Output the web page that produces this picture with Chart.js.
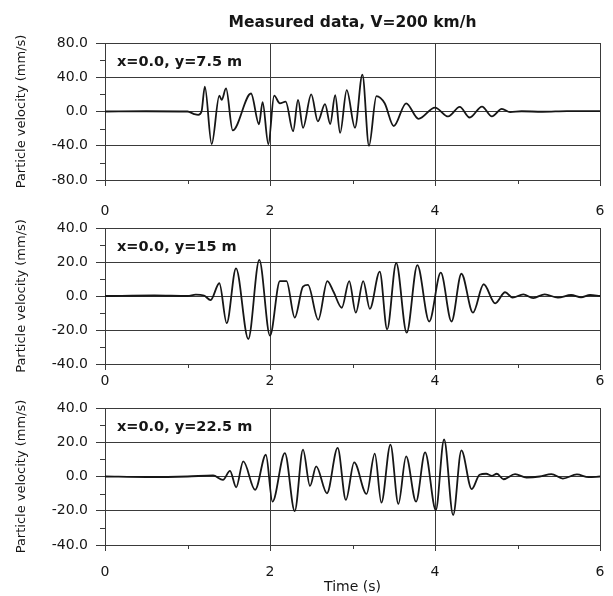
<!DOCTYPE html>
<html>
<head>
<meta charset="utf-8">
<script src="https://cdn.jsdelivr.net/npm/chart.js@4/dist/chart.umd.min.js"></script>
<style>
    html, body { margin: 0; padding: 0; background: #ffffff; }
    #wrap { position: relative; width: 613px; height: 596px; }
    canvas { position: absolute; left: 0; }
</style>
</head>
<body>
<div id="wrap">
    <canvas id="p1" width="613" height="230" style="top:0px"></canvas>
    <canvas id="p2" width="613" height="200" style="top:200px"></canvas>
    <canvas id="p3" width="613" height="216" style="top:380px"></canvas>
</div>
<script>

// time (s) and particle velocity (mm/s)
const t1 = [0, 0.5, 1.0, 1.08, 1.13, 1.17, 1.21, 1.293, 1.386, 1.414, 1.467, 1.548, 1.77, 1.867, 1.91, 1.98,
    2.05, 2.12, 2.19, 2.28, 2.34, 2.40, 2.50, 2.58, 2.667, 2.73, 2.79, 2.85, 2.93, 3.03, 3.12, 3.20,
    3.29, 3.39, 3.50, 3.65, 3.80, 4.0, 4.16, 4.30, 4.42, 4.57, 4.69, 4.81, 4.91, 5.05, 5.3, 5.6, 6.0];
const v1 = [0, 0.3, 0, -3, -4, 0, 29, -38, 18.5, 13.5, 27, -22, 21, -15, 11, -38,
    18.5, 9.6, 11.5, -23, 13.5, -19, 20, -11.5, 8.5, -14.6, 19, -25, 25, -19, 43, -40,
    18, 9.6, -17, 9.6, -8.5, 4.6, -5.8, 5.4, -7, 5.8, -5.8, 3, -0.8, 0.3, -0.3, 0.4, 0.5];

const t2 = [0, 0.6, 1.0, 1.1, 1.2, 1.28, 1.386, 1.475, 1.588, 1.737, 1.87, 2.0, 2.12, 2.2, 2.30, 2.40,
    2.46, 2.585, 2.695, 2.77, 2.87, 2.96, 3.04, 3.13, 3.21, 3.33, 3.42, 3.53, 3.657, 3.786, 3.93,
    4.07, 4.20, 4.32, 4.46, 4.59, 4.73, 4.85, 4.94, 5.07, 5.19, 5.33, 5.49, 5.65, 5.77, 5.88, 6.0];
const v2 = [0, 0.3, 0, 0.8, 0.3, -2.4, 7.5, -16, 16.3, -25.3, 21.2, -23.3, 8.8, 8.8, -12.7, 5.5,
    6.5, -14, 8.8, 2.5, -6.9, 8.8, -9.8, 8.8, -7.6, 14.3, -19.6, 19.4, -21.6, 18.2, -15,
    13.7, -15, 13.1, -9.8, 6.9, -4.3, 2.2, -1, 1, -1.2, 1, -1, 0.6, -0.8, 0.6, 0];

const t3 = [0, 0.5, 1.0, 1.31, 1.43, 1.515, 1.59, 1.676, 1.82, 1.95, 2.03, 2.18, 2.30, 2.40, 2.485,
    2.56, 2.69, 2.82, 2.92, 3.02, 3.17, 3.27, 3.35, 3.46, 3.556, 3.65, 3.77, 3.88, 4.01, 4.11,
    4.22, 4.32, 4.445, 4.54, 4.62, 4.69, 4.75, 4.83, 4.97, 5.11, 5.27, 5.41, 5.55, 5.72, 5.86, 6.0];
const v3 = [0, -0.3, 0, 0.6, -2, 3.3, -6.3, 8.8, -7.8, 12.7, -14.7, 13.7, -20.2, 15.7, -5.5,
    5.9, -9.8, 16.7, -13.7, 8.2, -10.2, 13.3, -15.3, 18.6, -16, 11.8, -14.7, 14.1, -19.6, 21.6,
    -22.5, 15.3, -7.4, 1, 1.6, 0.4, 1.6, -1.6, 1.4, -0.6, 0, 1.4, -1.2, 1.2, -0.4, 0];

const panelLabels = ["x=0.0, y=7.5 m", "x=0.0, y=15 m", "x=0.0, y=22.5 m"];
const yLimits = [80, 40, 40];
const yStep = [40, 20, 20];
const xTicks = [0, 2, 4, 6];
const xMinor = [1, 3, 5];

const chartTitle = "Measured data, V=200 km/h";
const yTitle = "Particle velocity (mm/s)";
const xTitle = "Time (s)";

const ink = "#161616";
const gridInk = "#3a3a3a";
const fam = "'DejaVu Sans', 'Liberation Sans', sans-serif";

// label in the top-left corner of each panel plus the short minor ticks
const panelDecor = {
    id: "panelDecor",
    afterDraw(chart, args, opts) {
        const ctx = chart.ctx;
        const area = chart.chartArea;
        const xs = chart.scales.x;
        const ys = chart.scales.y;

        ctx.save();
        ctx.strokeStyle = gridInk;
        ctx.lineWidth = 1;
        ctx.beginPath();
        xMinor.forEach(m => {
            const px = Math.round(xs.getPixelForValue(m)) + 0.5;
            ctx.moveTo(px, area.bottom);
            ctx.lineTo(px, area.bottom + 4);
        });
        for (let y = -opts.lim + opts.step / 2; y < opts.lim; y += opts.step) {
            const py = Math.round(ys.getPixelForValue(y)) + 0.5;
            ctx.moveTo(area.left - 5, py);
            ctx.lineTo(area.left, py);
        }
        ctx.stroke();

        ctx.fillStyle = ink;
        ctx.font = "bold 14.5px " + fam;
        ctx.textAlign = "left";
        ctx.textBaseline = "middle";
        ctx.fillText(opts.text, area.left + 12, area.top + 19);
        ctx.restore();
    }
};

function makePanel(id, t, v, idx, cfg) {

    const ctx =
        document
            .getElementById(id)
            .getContext("2d");

    const points =
        t.map((x, i) => ({ x: x, y: v[i] }));

    const lim = yLimits[idx];

    return new Chart(ctx, {

        type: "line",

        data: {
            datasets: [
                {
                    data: points,
                    borderColor: ink,
                    borderWidth: 1.8,
                    pointRadius: 0,
                    cubicInterpolationMode: "monotone",
                    fill: false
                }
            ]
        },

        plugins: [panelDecor],

        options: {
            responsive: false,
            animation: false,
            events: [],
            layout: {
                padding: { top: cfg.padTop, left: 0, right: 13, bottom: 0 }
            },
            plugins: {
                legend: { display: false },
                tooltip: { enabled: false },
                title: {
                    display: cfg.showTitle,
                    text: chartTitle,
                    fullSize: false,
                    color: ink,
                    font: { family: fam, size: 15.5, weight: "bold", lineHeight: 1.2 },
                    padding: { top: 14, bottom: 10.4 }
                },
                panelDecor: {
                    text: panelLabels[idx],
                    lim: lim,
                    step: yStep[idx]
                }
            },
            scales: {
                x: {
                    type: "linear",
                    min: 0,
                    max: 6,
                    afterBuildTicks: s => { s.ticks = xTicks.map(x => ({ value: x })); },
                    afterFit: s => {
                        s.height = cfg.xHeight;
                        s.paddingLeft = 0;
                        s.paddingRight = 0;
                    },
                    grid: {
                        color: gridInk,
                        lineWidth: 1,
                        tickLength: 6,
                        tickColor: gridInk
                    },
                    border: { color: gridInk, width: 1 },
                    ticks: {
                        color: ink,
                        padding: cfg.xPad,
                        maxRotation: 0,
                        font: { family: fam, size: 14, lineHeight: 1.2 },
                        callback: val => String(val)
                    },
                    title: {
                        display: cfg.showXTitle,
                        text: xTitle,
                        color: ink,
                        font: { family: fam, size: 14, lineHeight: 1.2 },
                        padding: { top: 0, bottom: 0 }
                    }
                },
                y: {
                    min: -lim,
                    max: lim,
                    afterFit: s => { s.width = 105; },
                    ticks: {
                        stepSize: yStep[idx],
                        color: ink,
                        padding: 8,
                        font: { family: fam, size: 14, lineHeight: 1.2 },
                        callback: val => Number(val).toFixed(1)
                    },
                    grid: {
                        color: gridInk,
                        lineWidth: 1,
                        tickLength: 9,
                        tickColor: gridInk
                    },
                    border: { color: gridInk, width: 1 },
                    title: {
                        display: true,
                        text: yTitle,
                        color: ink,
                        font: { family: fam, size: 13, lineHeight: 1.2 },
                        padding: { top: 14, bottom: 0 }
                    }
                }
            }
        }
    });
}

makePanel("p1", t1, v1, 0, { padTop: 0, showTitle: true, xHeight: 50, xPad: 17, showXTitle: false });
makePanel("p2", t2, v2, 1, { padTop: 28, showTitle: false, xHeight: 36, xPad: 3, showXTitle: false });
makePanel("p3", t3, v3, 2, { padTop: 28, showTitle: false, xHeight: 51, xPad: 13, showXTitle: true });

</script>
</body>
</html>
